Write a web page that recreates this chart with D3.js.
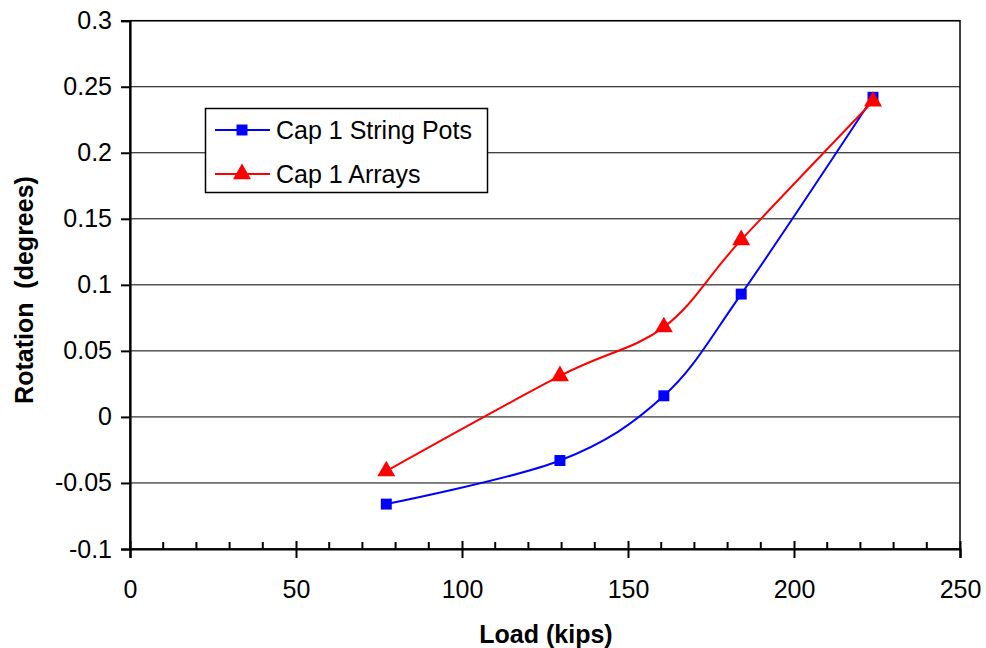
<!DOCTYPE html>
<html><head><meta charset="utf-8">
<script src="https://cdn.jsdelivr.net/npm/d3@7"></script>
<style>body{margin:0;background:#fff}svg{display:block}text{font-family:"Liberation Sans",Arial,sans-serif}</style>
</head><body>
<script>
const loads = [77.2, 129.5, 160.8, 184.1, 223.8];
const stringPots = [-0.066, -0.033, 0.016, 0.093, 0.242];
const arrays = [-0.041, 0.031, 0.068, 0.134, 0.239];
const xTicks = [0, 50, 100, 150, 200, 250];
const yTicks = [-0.1, -0.05, 0, 0.05, 0.1, 0.15, 0.2, 0.25, 0.3];
const yTickLabels = ["-0.1", "-0.05", "0", "0.05", "0.1", "0.15", "0.2", "0.25", "0.3"];
const seriesNames = ["Cap 1 String Pots", "Cap 1 Arrays"];

const W = 986, H = 648;
const FONT = "Liberation Sans, Arial, sans-serif";
const svg = d3.select("body").append("svg").attr("width", W).attr("height", H);
const x = d3.scaleLinear().domain([0, 250]).range([130, 960]);
const y = d3.scaleLinear().domain([-0.1, 0.3]).range([549, 20.7]);

// gridlines
svg.append("g").selectAll("line").data(yTicks).join("line")
  .attr("x1", x(0)).attr("x2", x(250)).attr("y1", d => y(d)).attr("y2", d => y(d))
  .attr("stroke", "#000").attr("stroke-width", 1);
// plot border
svg.append("rect").attr("x", x(0)).attr("y", y(0.3)).attr("width", x(250) - x(0)).attr("height", y(-0.1) - y(0.3))
  .attr("fill", "none").attr("stroke", "#000").attr("stroke-width", 1.5);

// y axis
const yAxis = d3.axisLeft(y).tickValues(yTicks).tickSize(9).tickPadding(9)
  .tickFormat((d, i) => yTickLabels[i]);
const gy = svg.append("g").attr("transform", `translate(${x(0)},0)`).call(yAxis);
gy.select(".domain").attr("stroke-width", 2.2);
gy.selectAll(".tick line").attr("stroke-width", 2);
gy.selectAll("text").attr("font-size", 25).attr("fill", "#000").attr("font-family", FONT);

// x axis
const xAxis = d3.axisBottom(x).tickValues(xTicks).tickSize(9).tickPadding(22).tickFormat(d3.format("d"));
const gx = svg.append("g").attr("transform", `translate(0,${y(-0.1)})`).call(xAxis);
gx.select(".domain").attr("stroke-width", 2.2);
gx.selectAll(".tick line").attr("y1", -8).attr("stroke-width", 2);
gx.selectAll("text").attr("font-size", 25).attr("fill", "#000").attr("font-family", FONT);
// minor ticks
const minor = d3.range(0, 251, 10).filter(v => v % 50 !== 0);
gx.append("g").selectAll("line").data(minor).join("line")
  .attr("x1", d => x(d)).attr("x2", d => x(d)).attr("y1", 0).attr("y2", -7)
  .attr("stroke", "#000").attr("stroke-width", 2);

// axis titles
svg.append("text").attr("x", 546).attr("y", 643).attr("text-anchor", "middle")
  .attr("font-size", 25).attr("font-weight", "bold").text("Load (kips)");
svg.append("text").attr("transform", "translate(33,290) rotate(-90)").attr("text-anchor", "middle")
  .attr("font-size", 25).attr("font-weight", "bold").style("white-space", "pre").text("Rotation  (degrees)");

const line = d3.line().x(d => x(d[0])).y(d => y(d[1])).curve(d3.curveCatmullRom.alpha(0));
const blueData = loads.map((l, i) => [l, stringPots[i]]);
const redData = loads.map((l, i) => [l, arrays[i]]);

svg.append("path").datum(blueData).attr("d", line).attr("fill", "none").attr("stroke", "#0000ff").attr("stroke-width", 2);
svg.append("path").datum(redData).attr("d", line).attr("fill", "none").attr("stroke", "#ff0000").attr("stroke-width", 2);

const sq = d3.symbol().type(d3.symbolSquare).size(120);
const tri = d3.symbol().type(d3.symbolTriangle).size(140);
svg.append("g").selectAll("path").data(blueData).join("path")
  .attr("d", sq).attr("transform", d => `translate(${x(d[0])},${y(d[1])})`).attr("fill", "#0000ff");
svg.append("g").selectAll("path").data(redData).join("path")
  .attr("d", tri).attr("transform", d => `translate(${x(d[0])},${y(d[1])})`).attr("fill", "#ff0000");

// legend
const lg = svg.append("g");
lg.append("rect").attr("x", 205.5).attr("y", 108.5).attr("width", 282).attr("height", 84)
  .attr("fill", "#fff").attr("stroke", "#000").attr("stroke-width", 1.5);
const rows = [{name: seriesNames[0], color: "#0000ff", sym: sq, cy: 130}, {name: seriesNames[1], color: "#ff0000", sym: tri, cy: 174}];
rows.forEach(r => {
  lg.append("line").attr("x1", 215).attr("x2", 270).attr("y1", r.cy).attr("y2", r.cy).attr("stroke", r.color).attr("stroke-width", 2);
  lg.append("path").attr("d", r.sym).attr("transform", `translate(242,${r.cy})`).attr("fill", r.color);
  lg.append("text").attr("x", 276).attr("y", r.cy + 9).attr("font-size", 25).text(r.name);
});
</script>
</body></html>
